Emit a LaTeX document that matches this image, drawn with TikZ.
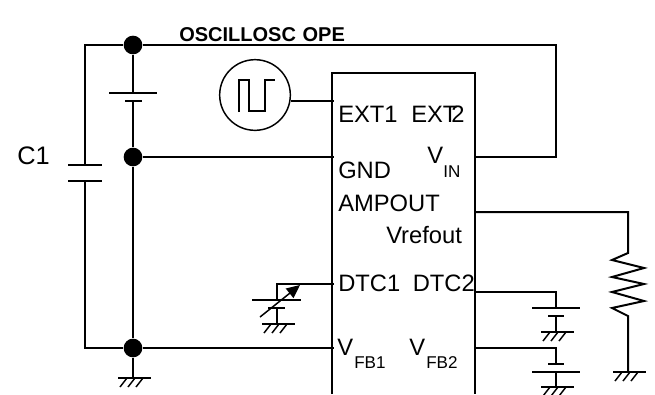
\documentclass[tikz,border=0pt]{standalone}
\usepackage{fontspec}
\setmainfont{Liberation Sans}
\usetikzlibrary{arrows.meta}
\tikzset{
  wire/.style={line width=1.5pt},
  plate/.style={line width=1.1pt},
  dotnode/.style={circle,fill=black,inner sep=0pt,minimum size=14pt},
  label/.style={anchor=base west,inner sep=0pt,font=\fontsize{17.8}{20}\selectfont},
  sublabel/.style={anchor=base west,inner sep=0pt,font=\fontsize{12.8}{14}\selectfont},
  gnd/.pic={
    \draw[plate] (-15,0) -- (18,0);
    \draw[plate] (-6,0) -- (-13,9) (2,0) -- (-5,9) (10,0) -- (3,9);
  }
}
\begin{document}
\begin{tikzpicture}[x=0.75pt,y=-0.75pt]
  \useasboundingbox (0,0) rectangle (655,394);
  % labels
  \draw
    (179,41) node[label,font=\fontsize{15}{17}\bfseries] (scope){OSCILLOSC\kern5pt OPE}
    (17,164) node[label,font=\fontsize{19}{21}\selectfont] (c1){C1}
    (338,122) node[label] (ext1){EXT1}
    (411,122) node[label] (ext2){EXT\kern-4.5pt 2}
    (427,163) node[label] (vin){V}
    (443,177) node[sublabel] (vinsub){IN}
    (338,178) node[label] (gnd){GND}
    (338,211) node[label] (ampout){AMPOUT}
    (386,243) node[label] (vref){Vrefout}
    (338,291) node[label] (dtc1){DTC1}
    (412.5,291) node[label] (dtc2){DTC2}
    (337,355) node[label] (vfb1){V}
    (354,368) node[sublabel] (vfb1sub){FB1}
    (409,355) node[label] (vfb2){V}
    (426,368) node[sublabel] (vfb2sub){FB2};
  % junctions
  \node[dotnode] (top) at (133,45) {};
  \node[dotnode] (mid) at (133,157) {};
  \node[dotnode] (low) at (133,348) {};
  % chip outline
  \coordinate (bl) at (332,394);
  \coordinate (tl) at (332,73);
  \coordinate (tr) at (475,73);
  \coordinate (br) at (475,394);
  \draw[wire] (bl) -- (tl) -- (tr) -- (br);
  % left side
  \coordinate (ctl) at (85,45);
  \coordinate (ca) at (85,165);
  \coordinate (cb) at (85,181);
  \coordinate (cbl) at (85,348);
  \coordinate (bata) at (133,93);
  \coordinate (batb) at (133,101);
  \coordinate (gndl) at (133,378);
  \coordinate (pgnd) at (334,157);
  \coordinate (pfb) at (334,348);
  \draw[wire] (ca) -- (ctl) -- (top) -- (bata);
  \draw[wire] (cb) -- (cbl) -- (low) -- (pfb);
  \draw[wire] (batb) -- (mid) -- (low) -- (gndl);
  \draw[wire] (mid) -- (pgnd);
  \draw[plate] (68,165) -- (102,165) (68,181) -- (102,181);
  \draw[plate] (109,93) -- (157,93) (125,101) -- (142,101);
  \pic at (gndl) {gnd};
  % top loop
  \coordinate (vout) at (475,157);
  \coordinate (vcor) at (556,157);
  \coordinate (vtop) at (556,45);
  \draw[wire] (top) -- (vtop) -- (vcor) -- (vout);
  % pulse generator
  \node[circle,draw,line width=1.1pt,inner sep=0pt,minimum size=53pt] (gen) at (255,95) {};
  \coordinate (pext) at (334,101);
  \draw[wire] (gen.east |- pext) -- (pext);
  \draw[plate] (239,112) -- (239,80) -- (249,80) -- (249,111) -- (265,111) -- (265,80) -- (275,80);
  % trimmer on DTC1
  \coordinate (pdtc) at (334,284);
  \coordinate (tcor) at (277,284);
  \coordinate (ta) at (277,300);
  \coordinate (tb) at (277,308);
  \coordinate (tg) at (277,324);
  \coordinate (tarrowa) at (260,317);
  \coordinate (tarrowb) at (300,285);
  \draw[wire] (pdtc) -- (tcor) -- (ta);
  \draw[wire] (tb) -- (tg);
  \draw[plate] (252,300) -- (301,300) (268,308) -- (285,308);
  \draw[plate,-{Triangle[length=10pt,width=9pt]}] (tarrowa) -- (tarrowb);
  \pic at (tg) {gnd};
  % DTC2 cap
  \coordinate (dout) at (475,292);
  \coordinate (dcor) at (556,292);
  \coordinate (da) at (556,308);
  \coordinate (db) at (556,316);
  \coordinate (dg) at (556,332);
  \draw[wire] (dout) -- (dcor) -- (da);
  \draw[wire] (db) -- (dg);
  \draw[plate] (532,308) -- (580,308) (548,316) -- (564,316);
  \pic at (dg) {gnd};
  % FB2 cap
  \coordinate (fout) at (475,348);
  \coordinate (fcor) at (556,348);
  \coordinate (fa) at (556,364);
  \coordinate (fb) at (556,372);
  \coordinate (fg) at (556,387);
  \draw[wire] (fout) -- (fcor) -- (fa);
  \draw[wire] (fb) -- (fg);
  \draw[plate] (548,364) -- (564,364) (532,372) -- (580,372);
  \pic at (fg) {gnd};
  % load resistor
  \coordinate (aout) at (475,212);
  \coordinate (acor) at (628,212);
  \coordinate (ra) at (628,253);
  \coordinate (rb) at (628,316);
  \coordinate (rg) at (628,372);
  \draw[wire] (aout) -- (acor) -- (ra) -- (612,260) -- (644,268) -- (612,277) -- (644,284)
    -- (612,292) -- (644,301) -- (612,308) -- (rb) -- (rg);
  \pic at (rg) {gnd};
\end{tikzpicture}
\end{document}
